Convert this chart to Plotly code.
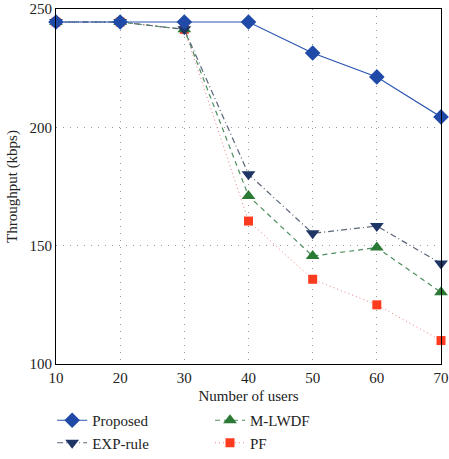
import plotly.graph_objects as go

users = [10, 20, 30, 40, 50, 60, 70]
proposed = [244.5, 244.5, 244.5, 244.5, 231.4, 221.3, 204.4]
exp_rule = [244.5, 244.5, 241.4, 180.2, 155.2, 158.3, 142.5]
m_lwdf = [244.5, 244.5, 241.4, 171.0, 145.6, 149.2, 130.3]
pf = [244.5, 244.5, 241.4, 160.4, 135.8, 125.0, 109.9]

x_ticks = [10, 20, 30, 40, 50, 60, 70]
y_ticks = [100, 150, 200, 250]

font = "Liberation Serif, DejaVu Serif, serif"

fig = go.Figure()
fig.add_trace(go.Scatter(x=users, y=pf, name="PF", mode="lines+markers",
                         line=dict(color="#f08080", width=1, dash="1px,3px"),
                         marker=dict(symbol="square", size=9, color="#ff3b1f"),
                         legend="legend2", legendrank=2, cliponaxis=False))
fig.add_trace(go.Scatter(x=users, y=m_lwdf, name="M-LWDF", mode="lines+markers",
                         line=dict(color="#4f8f5f", width=1.2, dash="5px,4px"),
                         marker=dict(symbol="triangle-up", size=12, color="#2a7a35"),
                         legend="legend2", legendrank=1, cliponaxis=False))
fig.add_trace(go.Scatter(x=users, y=exp_rule, name="EXP-rule", mode="lines+markers",
                         line=dict(color="#5a6578", width=1.2, dash="6px,3px,1px,3px"),
                         marker=dict(symbol="triangle-down", size=12, color="#1f3566"),
                         legend="legend", legendrank=2, cliponaxis=False))
fig.add_trace(go.Scatter(x=users, y=proposed, name="Proposed", mode="lines+markers",
                         line=dict(color="#2a54b0", width=1.2),
                         marker=dict(symbol="diamond", size=12, color="#1f4aa8"),
                         legend="legend", legendrank=1, cliponaxis=False))

axis_common = dict(showline=True, linecolor="black", linewidth=1.2, mirror=True,
                   showgrid=True, gridcolor="#9a9a9a", griddash="1px,6px", gridwidth=1.2,
                   ticks="", zeroline=False,
                   tickfont=dict(family=font, size=15, color="#222"))

legend_common = dict(yref="container", y=0.0, xanchor="left", yanchor="bottom",
                     orientation="v", itemwidth=30,
                     font=dict(family=font, size=15), tracegroupgap=0,
                     bgcolor="rgba(0,0,0,0)")

fig.update_layout(
    width=449, height=459,
    margin=dict(l=56, r=8, t=9, b=95, autoexpand=False),
    paper_bgcolor="white", plot_bgcolor="white",
    font=dict(family=font, size=15, color="#222"),
    xaxis=dict(range=[10, 70], tickvals=x_ticks,
               title=dict(text="Number of users", font=dict(family=font, size=15), standoff=11),
               **axis_common),
    yaxis=dict(range=[100, 250], tickvals=y_ticks,
               title=dict(text="Throughput (kbps)", font=dict(family=font, size=15), standoff=8),
               **axis_common),
    legend=dict(x=-0.01, **legend_common),
    legend2=dict(x=0.4, **legend_common),
)

fig.write_html("out.html")
